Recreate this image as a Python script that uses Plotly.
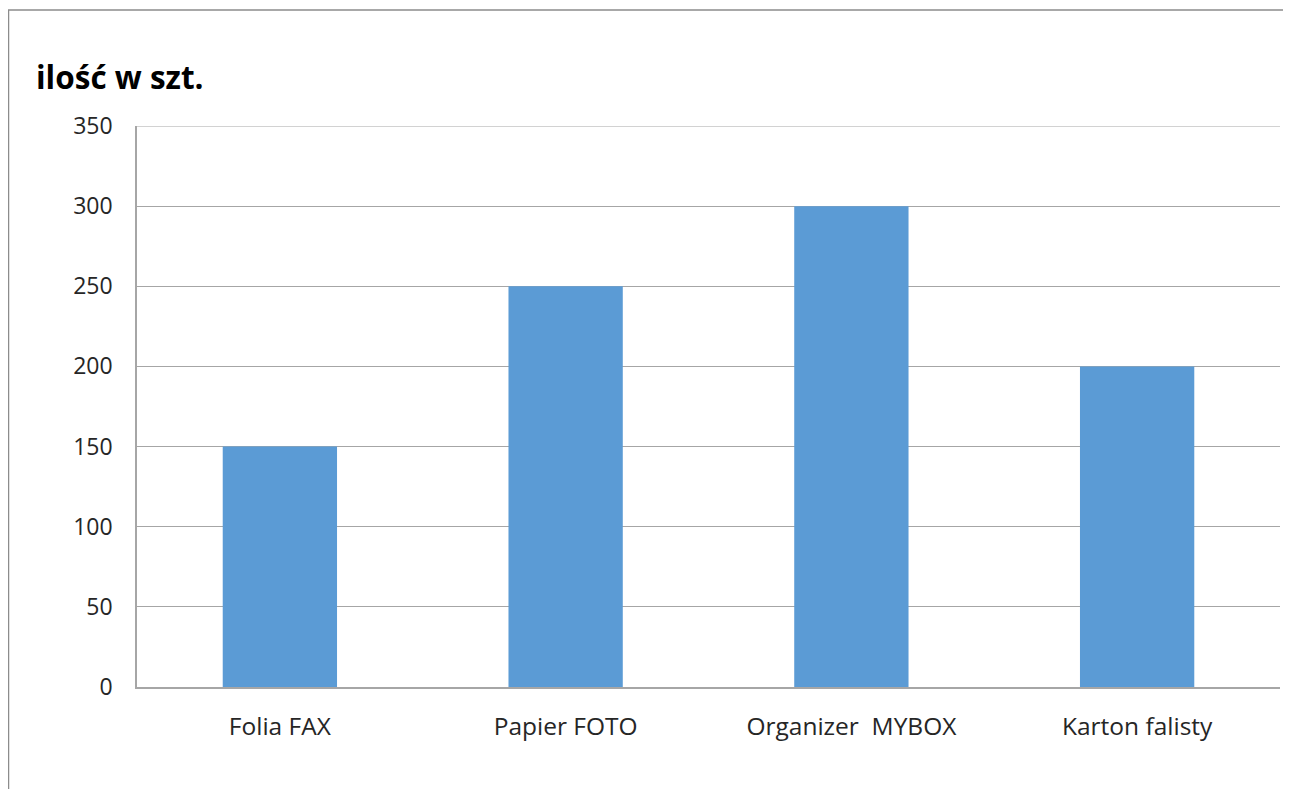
import plotly.graph_objects as go

categories = ["Folia FAX", "Papier FOTO", "Organizer  MYBOX", "Karton falisty"]
values = [150, 250, 300, 200]
y_ticks = [0, 50, 100, 150, 200, 250, 300, 350]

W, H = 1291, 789
off = 8  # page offset of the figure
ml, mr, mt, mb = 137 - off, 19, 126 - off, 110
pw, ph = W - ml - mr, H - mt - mb

fig = go.Figure(go.Bar(
    x=categories, y=values,
    marker=dict(color="#5B9BD5", line=dict(width=0)),
))

fig.update_layout(
    width=W, height=H,
    margin=dict(l=ml, r=mr, t=mt, b=mb),
    paper_bgcolor="white", plot_bgcolor="white",
    bargap=0.6,
    showlegend=False,
    font=dict(family="Open Sans, Noto Sans, sans-serif", color="#262626", size=23),
    xaxis=dict(
        showgrid=False, showline=True, linecolor="#A6A6A6", linewidth=1.5,
        ticks="", ticklabelstandoff=17, tickfont=dict(size=24.5, color="#262626"),
    ),
    yaxis=dict(
        range=[0, 350], tickvals=y_ticks, showgrid=True, gridcolor="#A6A6A6", gridwidth=1.2,
        showline=True, linecolor="#A6A6A6", linewidth=1.5, zeroline=False,
        ticks="", ticklabelstandoff=18, tickfont=dict(size=23, color="#262626"),
    ),
    annotations=[
        dict(text="<b>ilość w szt.</b>", xref="paper", yref="paper",
             x=(34 - off - ml) / pw, y=1 + (mt - (77 - off)) / ph, xanchor="left", yanchor="middle",
             showarrow=False, font=dict(size=31.5, color="black",
                                        family="Open Sans, Noto Sans, sans-serif")),
    ],
    shapes=[
        dict(type="line", xref="paper", yref="y", x0=0, x1=1, y0=350, y1=350,
             line=dict(color="#A6A6A6", width=1.2)),
        dict(type="rect", xref="paper", yref="paper",
             x0=(0.5 - ml) / pw, x1=1 + (mr + 20) / pw,
             y0=-(mb + 20) / ph, y1=1 + (mt - 2) / ph,
             line=dict(color="#8C8C8C", width=1.5), fillcolor="rgba(0,0,0,0)", layer="below"),
    ],
)

fig.write_html("out.html")
